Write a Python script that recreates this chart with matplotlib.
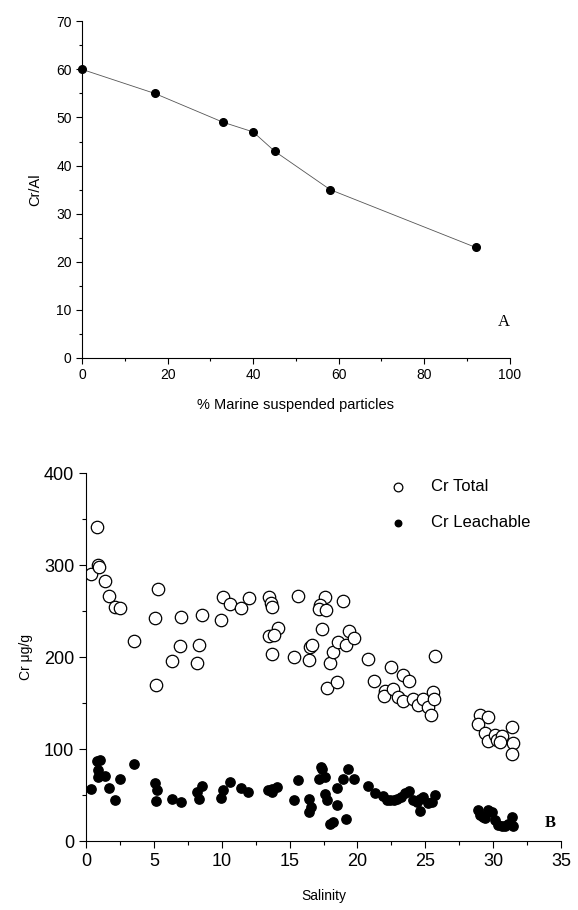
import matplotlib
matplotlib.use("Agg")
import matplotlib.pyplot as plt
from matplotlib.ticker import MultipleLocator

plt.rcParams['font.family'] = ['Liberation Sans', 'DejaVu Sans']

# panel A: Cr/Al vs % marine suspended particles
marine_pct = [0, 17, 33, 40, 45, 58, 92]
cr_al = [60, 55, 49, 47, 43, 35, 23]

# panel B: Cr total (open circles)
tot_sal = [0.37, 0.81, 0.91, 0.95, 1.42, 1.67, 2.16, 2.53, 3.51, 5.31, 5.11, 5.16,
           6.34, 6.93, 7.0, 8.2, 8.35, 8.55, 9.95, 10.12, 10.61, 11.42, 11.99,
           13.49, 13.63, 13.68, 15.65, 17.61, 17.24, 17.2, 17.66, 18.9, 14.12,
           13.49, 13.88, 13.73, 15.35, 16.43, 16.5, 16.68, 17.39, 18.0, 18.2,
           18.54, 19.16, 19.35, 19.75, 17.73, 18.47, 20.81, 21.25, 25.74, 22.48,
           23.39, 23.8, 22.03, 21.96, 22.6, 22.97, 23.34, 24.12, 24.49, 24.86,
           25.23, 25.55, 25.65, 25.42, 29.03, 29.65, 28.91, 29.4, 29.65, 30.14,
           30.26, 30.63, 31.37, 31.44, 31.37, 30.5]
tot_cr = [291, 342, 300, 298, 283, 267, 255, 253, 218, 274, 243, 170,
          196, 212, 244, 194, 213, 246, 240, 265, 258, 254, 264,
          266, 259, 255, 267, 265, 257, 252, 251, 261, 232,
          223, 224, 204, 200, 197, 211, 213, 231, 194, 206,
          216, 213, 229, 221, 167, 173, 198, 174, 201, 189,
          181, 174, 163, 158, 165, 157, 152, 154, 148, 154,
          146, 162, 154, 137, 137, 135, 127, 117, 109, 115,
          110, 114, 124, 107, 95, 108]

# panel B: Cr leachable (filled dots)
lea_sal = [0.37, 0.81, 1.03, 0.91, 0.86, 1.42, 1.69, 2.16, 2.51, 3.51, 5.08, 5.26,
           5.18, 6.34, 6.98, 8.18, 8.35, 8.55, 9.92, 10.1, 10.61, 11.42, 11.96,
           13.44, 13.68, 13.68, 14.1, 15.6, 15.35, 16.41, 16.58, 16.46, 17.29,
           17.36, 17.19, 17.59, 17.61, 17.73, 17.98, 18.18, 18.47, 18.52, 18.9,
           19.16, 19.33, 19.75, 20.78, 21.27, 21.91, 22.15, 22.4, 22.7, 22.94,
           23.19, 23.51, 23.83, 24.12, 24.37, 24.61, 24.61, 24.86, 25.23, 25.47,
           25.72, 28.91, 29.03, 29.28, 29.4, 29.65, 29.9, 30.14, 30.39, 30.63,
           30.88, 31.12, 31.37, 31.44]
lea_cr = [57, 87, 88, 77, 70, 71, 58, 45, 67, 84, 63, 56,
          44, 46, 43, 53, 46, 60, 47, 55, 64, 58, 53,
          55, 57, 53, 59, 66, 45, 46, 37, 32, 80,
          78, 67, 70, 51, 45, 19, 21, 39, 58, 67,
          24, 78, 68, 60, 52, 49, 45, 45, 45, 46,
          48, 52, 54, 45, 43, 46, 33, 48, 41, 43,
          50, 34, 28, 26, 25, 34, 32, 23, 17, 16,
          16, 19, 26, 16]

fig = plt.figure(figsize=(5.78, 9.10), dpi=100)

# ---- panel A ----
ax1 = fig.add_axes([0.142, 0.6066, 0.740, 0.370])
ax1.plot(marine_pct, cr_al, color='#555555', lw=0.6, marker='o', ms=5.5,
         mfc='black', mec='black', clip_on=False)
ax1.set_xlim(0, 100)
ax1.set_ylim(0, 70)
ax1.xaxis.set_major_locator(MultipleLocator(20))
ax1.xaxis.set_minor_locator(MultipleLocator(10))
ax1.yaxis.set_major_locator(MultipleLocator(10))
ax1.yaxis.set_minor_locator(MultipleLocator(5))
ax1.spines['top'].set_visible(False)
ax1.spines['right'].set_visible(False)
ax1.tick_params(which='both', direction='out', labelsize=10, width=0.8)
ax1.tick_params(which='major', length=4)
ax1.tick_params(which='minor', length=2)
ax1.set_xlabel('% Marine suspended particles', fontsize=10.5, labelpad=11)
ax1.set_ylabel('Cr/Al', fontsize=10.5, labelpad=10)
ax1.text(100, 7.5, 'A', family=['Liberation Serif'], fontsize=12, ha='right', va='center')

# ---- panel B ----
ax2 = fig.add_axes([0.1488, 0.0758, 0.8218, 0.404])
ax2.scatter(tot_sal, tot_cr, s=80, facecolors='white', edgecolors='black',
            linewidths=0.9, label='Cr Total', zorder=2)
ax2.scatter(lea_sal, lea_cr, s=45, color='black', label='Cr Leachable', zorder=3)
ax2.set_xlim(0, 35)
ax2.set_ylim(0, 400)
ax2.xaxis.set_major_locator(MultipleLocator(5))
ax2.xaxis.set_minor_locator(MultipleLocator(2.5))
ax2.yaxis.set_major_locator(MultipleLocator(100))
ax2.yaxis.set_minor_locator(MultipleLocator(50))
ax2.spines['top'].set_visible(False)
ax2.spines['right'].set_visible(False)
ax2.tick_params(which='both', direction='out', labelsize=13, width=0.8)
ax2.tick_params(which='major', length=5)
ax2.tick_params(which='minor', length=3)
ax2.set_xlabel('Salinity', fontsize=10, labelpad=14)
ax2.set_ylabel('Cr \u03bcg/g', fontsize=10, labelpad=8)
ax2.text(34.6, 20, 'B', family=['Liberation Serif'], fontsize=12,
         fontweight='bold', ha='right', va='center')
ax2.legend(loc='upper left', bbox_to_anchor=(0.59, 1.025), frameon=False,
           fontsize=12, handletextpad=1.0, labelspacing=1.25, markerscale=0.7)

fig.savefig('out.png', dpi=100)
